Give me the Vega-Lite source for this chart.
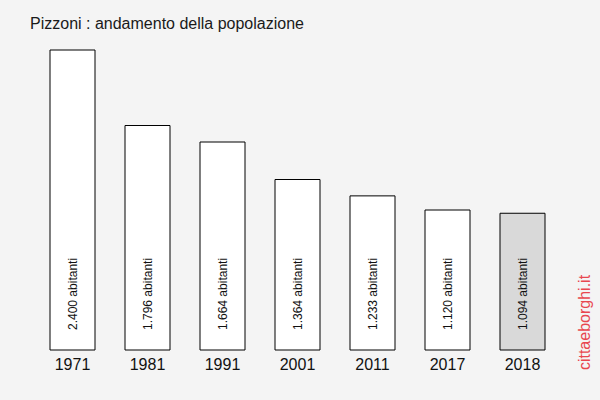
{
  "$schema": "https://vega.github.io/schema/vega-lite/v6.json",
  "autosize": {"type": "none"},
  "width": 525,
  "height": 300,
  "padding": {"left": 35, "top": 50, "right": 40, "bottom": 50},
  "background": "#f4f4f4",
  "config": {"view": {"stroke": null}, "font": "Liberation Sans"},
  "title": {
    "text": "Pizzoni : andamento della popolazione",
    "anchor": "start",
    "frame": "group",
    "fontSize": 16,
    "fontWeight": "normal",
    "color": "#1a1a1a",
    "font": "Liberation Sans",
    "offset": 18,
    "dx": -5
  },
  "data": {
    "values": [
      {"anno": "1971", "abitanti": 2400, "label": "2.400 abitanti", "last": false},
      {"anno": "1981", "abitanti": 1796, "label": "1.796 abitanti", "last": false},
      {"anno": "1991", "abitanti": 1664, "label": "1.664 abitanti", "last": false},
      {"anno": "2001", "abitanti": 1364, "label": "1.364 abitanti", "last": false},
      {"anno": "2011", "abitanti": 1233, "label": "1.233 abitanti", "last": false},
      {"anno": "2017", "abitanti": 1120, "label": "1.120 abitanti", "last": false},
      {"anno": "2018", "abitanti": 1094, "label": "1.094 abitanti", "last": true}
    ]
  },
  "encoding": {
    "x": {
      "field": "anno",
      "type": "nominal",
      "sort": null,
      "scale": {"paddingInner": 0.4, "paddingOuter": 0.2},
      "axis": {
        "title": null,
        "domain": false,
        "ticks": false,
        "labelAngle": 0,
        "labelFontSize": 16,
        "labelColor": "#111",
        "labelPadding": 6,
        "labelFont": "Liberation Sans"
      }
    }
  },
  "layer": [
    {
      "mark": {"type": "bar", "stroke": "#000", "strokeWidth": 1},
      "encoding": {
        "y": {
          "field": "abitanti",
          "type": "quantitative",
          "scale": {"domain": [0, 2400], "nice": false},
          "axis": {
            "orient": "right",
            "domain": false,
            "ticks": false,
            "labels": false,
            "grid": false,
            "title": "cittaeborghi.it",
            "titleColor": "#e8474f",
            "titleFontSize": 16,
            "titleFontWeight": "normal",
            "titleFont": "Liberation Sans",
            "titleAngle": 270,
            "titleAlign": "center",
            "titleBaseline": "middle",
            "titleX": 24,
            "titleY": 272
          }
        },
        "fill": {
          "field": "last",
          "type": "nominal",
          "scale": {"domain": [false, true], "range": ["#ffffff", "#d9d9d9"]},
          "legend": null
        }
      }
    },
    {
      "mark": {
        "type": "text",
        "angle": 270,
        "align": "left",
        "baseline": "middle",
        "fontSize": 12,
        "color": "#111",
        "font": "Liberation Sans"
      },
      "encoding": {
        "y": {"datum": 160, "type": "quantitative"},
        "text": {"field": "label"}
      }
    }
  ]
}
